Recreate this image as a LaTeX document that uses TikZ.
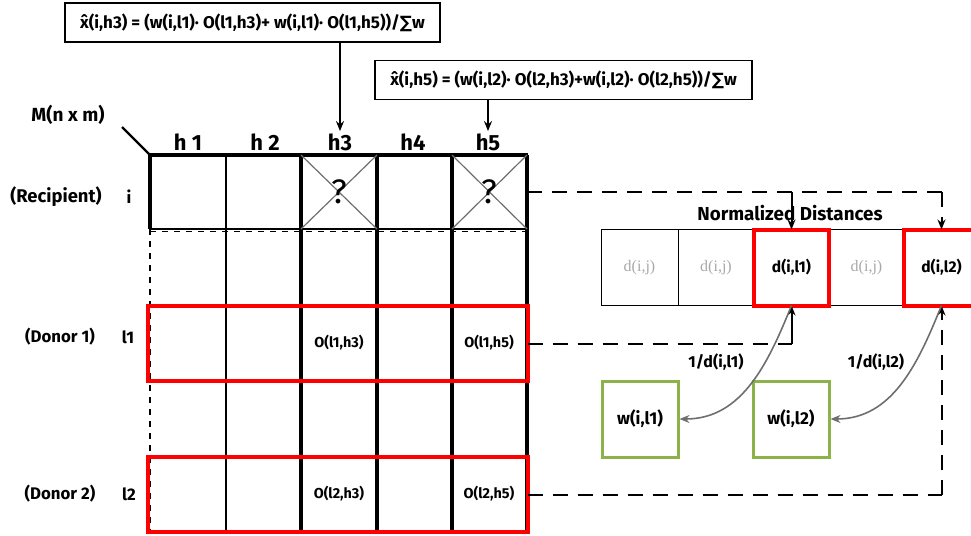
\documentclass[tikz,border=0pt]{standalone}
\usepackage{fontspec}
\setmainfont{Fira Sans}
\newfontfamily\serf{Liberation Serif}
\newfontfamily\djv{DejaVu Sans}
\usetikzlibrary{arrows.meta}
\definecolor{wgreen}{HTML}{8CB24A}
\definecolor{dgray}{HTML}{A8A8A8}
\definecolor{cgray}{HTML}{6E6E6E}
\begin{document}
\begin{tikzpicture}[x=0.5pt,y=-0.5pt,
  txt/.style={font=\bfseries\fontsize{7.5}{9}\selectfont, inner sep=1pt},
  rowlbl/.style={font=\bfseries\fontsize{8.4}{10}\selectfont, inner sep=1pt},
  olbl/.style={font=\bfseries\fontsize{7.2}{8}\selectfont, inner sep=1pt},
  hdr/.style={font=\bfseries\fontsize{11}{13}\selectfont, inner sep=1pt},
  formbox/.style={draw, line width=0.6pt, font=\bfseries\fontsize{8.5}{10}\selectfont, minimum height=19.5pt, inner sep=0},
  rowbox/.style={minimum width=188.5pt, minimum height=37pt, inner sep=0, outer sep=0},
  redrow/.style={draw=red, line width=2pt, minimum width=190pt, minimum height=37.5pt, inner sep=0, outer sep=0},
  dcell/.style={draw, line width=0.5pt, minimum width=37.5pt, minimum height=38pt, inner sep=0, outer sep=0, font=\serf\fontsize{8}{9}\selectfont, text=dgray},
  dred/.style={dcell, draw=red, line width=2pt, text=black, font=\bfseries\fontsize{7.8}{9}\selectfont},
  wbox/.style={draw=wgreen, line width=1.5pt, minimum width=38pt, minimum height=38pt, inner sep=0, font=\bfseries\fontsize{8.6}{10}\selectfont},
  dashline/.style={dash pattern=on 7.5pt off 5pt, line width=1pt},
  thickln/.style={line width=2pt},
  thinln/.style={line width=0.6pt},
  qmark/.style={font=\fontsize{17}{20}\selectfont, inner sep=0}
]
\useasboundingbox (0,0) rectangle (971,536);

% formula boxes
\node[formbox, minimum width=187.5pt] (f1) at (252.5,22.5) {\^{x}(i,h3) = (w(i,l1)· O(l1,h3)+ w(i,l1)· O(l1,h5))/{\djv ∑}w};
\node[formbox, minimum width=188.5pt] (f2) at (563.5,80) {\^{x}(i,h5) = (w(i,l2)· O(l2,h3)+w(i,l2)· O(l2,h5))/{\djv ∑}w};

% header labels
\node[hdr] (h1) at (188,142) {h 1};
\node[hdr] (h2) at (265,142) {h 2};
\node[hdr] (h3) at (340,142) {h3};
\node[hdr] (h4) at (413,142) {h4};
\node[hdr] (h5) at (488,142) {h5};

\draw[line width=0.7pt,-{Stealth[length=5pt,width=4pt]}] (f1.south -| h3.north) -- (h3.north);
\draw[line width=0.7pt,-{Stealth[length=5pt,width=4pt]}] (f2.south -| h5.north) -- (h5.north);

% matrix label
\node[txt, font=\bfseries\fontsize{9.5}{11}\selectfont] (M) at (68,115) {M(n x m)};
\draw[line width=1.2pt] (122,127) -- (150,155);

% row labels
\node[rowlbl, font=\bfseries\fontsize{9.2}{11}\selectfont] (lrec) at (56,197) {(Recipient)};
\node[rowlbl] (li) at (129,197) {i};
\node[rowlbl] (ld1) at (60,337) {(Donor 1)};
\node[rowlbl] (ll1) at (128,337) {l1};
\node[rowlbl] (ld2) at (60,494) {(Donor 2)};
\node[rowlbl] (ll2) at (129,494) {l2};

% grid
\draw[thinln] (226,155) -- (226,532);
\foreach \x in {301,377,452,527} \draw[thickln] (\x,155) -- (\x,532);
\draw[thickln] (149,155) -- (528,155);
\draw[thickln] (150,155) -- (150,229);
\draw[line width=1.2pt] (150,229) -- (527,229);
\draw[dashed, thinln] (150,231.5) -- (527,231.5);
\draw[dashed, thinln] (150,229) -- (150,532);

% crosses
\draw[cgray, thinln] (301,155) -- (377,229) (301,229) -- (377,155);
\draw[cgray, thinln] (452,155) -- (527,229) (452,229) -- (527,155);
\node[qmark] (q1) at (339,192) {?};
\node[qmark] (q2) at (489.5,192) {?};

% recipient row (anchor for the connector)
\node[rowbox] (rec) at (338.5,192) {};

% donor rows
\node[redrow] (don1) at (337.5,343.5) {};
\node[redrow] (don2) at (337.5,494.5) {};
\node[olbl] (o1) at (339,343) {O(l1,h3)};
\node[olbl] (o2) at (489,343) {O(l1,h5)};
\node[olbl] (o3) at (339,494) {O(l2,h3)};
\node[olbl] (o4) at (489,494) {O(l2,h5)};

% distances
\node[txt, font=\bfseries\fontsize{9.4}{11}\selectfont] (nd) at (790,213) {Normalized Distances};
\node[dcell, minimum width=38.5pt] (d1) at (639.5,267.5) {d(i,j)};
\node[dcell] (d2) at (716,267.5) {d(i,j)};
\node[dcell] (d4) at (866.5,267.5) {d(i,j)};
\node[dred] (d3) at (791.5,267.5) {d(i,l1)};
\node[dred] (d5) at (941.5,267.5) {d(i,l2)};

% weights
\node[wbox] (w1) at (640,419) {w(i,l1)};
\node[wbox] (w2) at (791,419) {w(i,l2)};

% connectors
\coordinate (c1) at (rec.east -| d5.north);
\coordinate (c2) at (rec.east -| d3.north);
\draw[dashline] (rec.east) -- (c1);
\draw[dashline,-{Stealth[length=5pt,width=4pt]}] (c1) -- (d5.north);
\draw[line width=1pt,-{Stealth[length=5pt,width=4pt]}] (c2) -- (d3.north);

\coordinate (c3) at (don1.east -| d3.south);
\draw[dashline] (don1.east) -- (c3);
\draw[line width=1pt,-{Stealth[length=5pt,width=4pt]}] (c3) -- (d3.south);

\coordinate (c4) at (don2.east -| d5.south);
\draw[dashline] (don2.east) -- (c4);
\draw[dashline,-{Stealth[length=5pt,width=4pt]}] (c4) -- (d5.south);

\draw[cgray, line width=0.8pt, -{Stealth[length=5pt,width=4pt]}] (d3.south) to[out=-112, in=0] (w1.east);
\draw[cgray, line width=0.8pt, -{Stealth[length=5pt,width=4pt]}] (d5.south) to[out=-112, in=0] (w2.east);

\node[txt, font=\bfseries\fontsize{8}{10}\selectfont] (r1) at (716,362) {1/d(i,l1)};
\node[txt, font=\bfseries\fontsize{8}{10}\selectfont] (r2) at (876,362) {1/d(i,l2)};
\end{tikzpicture}
\end{document}
